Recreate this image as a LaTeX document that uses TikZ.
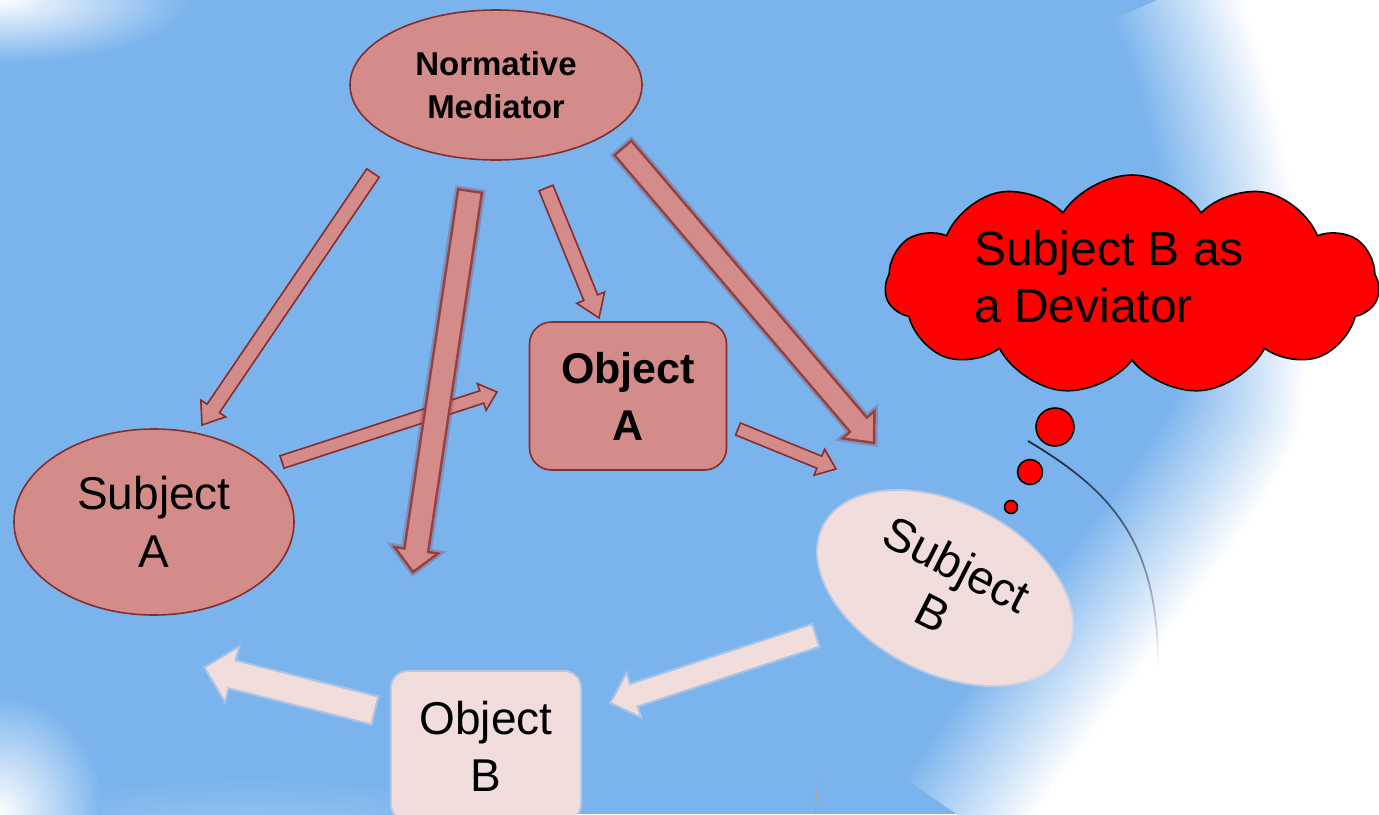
\documentclass[tikz,border=0pt]{standalone}
\usepackage{fontspec}
\setmainfont{Liberation Sans}
\usetikzlibrary{positioning, calc, shapes.geometric, shapes.symbols, fadings}

\definecolor{sky}{RGB}{123,180,237}
\definecolor{rose}{RGB}{212,140,138}
\definecolor{roseline}{RGB}{135,45,45}
\definecolor{blush}{RGB}{242,221,221}
\definecolor{arcline}{RGB}{30,40,60}

\tikzfading[name=arcfade, top color=transparent!0, middle color=transparent!10, bottom color=transparent!100]

% block arrow: tail, tip, half shaft, half head, head length
\newcommand{\fatarrow}[6][]{%
  \coordinate (hb) at ($(#3)!#6!(#2)$);
  \path[#1] ($(#2)!#4!90:(#3)$) -- ($(hb)!#4!-90:(#2)$) -- ($(hb)!#5!-90:(#2)$) -- (#3)
    -- ($(hb)!#5!90:(#2)$) -- ($(hb)!#4!90:(#2)$) -- ($(#2)!#4!-90:(#3)$) -- cycle;
}

\tikzset{
  mediator/.style={ellipse, fill=rose, draw=roseline, line width=0.8pt, minimum width=146pt, minimum height=75pt, inner sep=0pt, align=center, font=\fontsize{16.5}{21.5}\selectfont\bfseries},
  objbox/.style={rectangle, rounded corners=11pt, fill=rose, draw=roseline, line width=0.8pt, minimum width=98.5pt, minimum height=74pt, align=center, font=\fontsize{21.5}{28.5}\selectfont\bfseries},
  subj/.style={ellipse, fill=rose, draw=roseline, line width=0.8pt, minimum width=140pt, minimum height=93pt, inner sep=0pt, align=center, font=\fontsize{23}{29}\selectfont},
  pale subj/.style={ellipse, fill=blush, minimum width=136pt, minimum height=84pt, inner sep=0pt, align=center, font=\fontsize{23.5}{27}\selectfont, preaction={draw=blush, draw opacity=0.5, line width=2pt}},
  pale box/.style={rectangle, rounded corners=8pt, fill=blush, minimum width=94pt, minimum height=74pt, align=center, font=\fontsize{23}{28.5}\selectfont, preaction={draw=blush, draw opacity=0.5, line width=2pt}},
  deviator/.style={cloud, cloud puffs=11, cloud puff arc=115, aspect=2.25, fill=red, draw=black, line width=0.8pt, minimum width=247pt, minimum height=110pt, inner sep=0pt},
  devtext/.style={align=left, font=\fontsize{24}{28.5}\selectfont},
  bubble/.style={circle, fill=red, draw=black, line width=0.8pt, inner sep=0pt},
  thin arrow/.style={fill=rose, draw=roseline, line width=0.8pt},
  fat arrow/.style={fill=rose, draw=roseline!80!rose, line width=1.2pt, preaction={draw=roseline, draw opacity=0.25, line width=3.5pt}},
  pale arrow/.style={fill=blush, draw=blush, line width=0.8pt, preaction={draw=blush, draw opacity=0.4, line width=3pt}}
}

\begin{document}
\begin{tikzpicture}[x=0.5pt, y=-0.5pt]
    \useasboundingbox (0,0) rectangle (1379,814);
    \clip (0,0) rectangle (1379,814);

    % Background
    \fill[sky] (0,0) rectangle (1379,814);
    \foreach \w [evaluate=\w as \p using {100-\w/2.6}] in {252,248,...,4}
        \draw[white!\p!sky, line width=\w*0.5pt] (1230,-30) .. controls (1285,100) and (1320,300) .. (1300,430)
            .. controls (1260,530) and (1160,630) .. (1010,850);
    \fill[white] (1230,-30) .. controls (1285,100) and (1320,300) .. (1300,430)
        .. controls (1260,530) and (1160,630) .. (1010,850) -- (1420,850) -- (1420,-30) -- cycle;
    \foreach \r [evaluate=\r as \p using {100-1.25*\r}] in {80,78,...,2}
        \fill[white!\p!sky] (0,0) ellipse ({\r*1.2pt} and {\r*0.4pt});
    \foreach \r [evaluate=\r as \p using {(60-\r)*0.5}] in {60,58,...,2}
        \fill[white!\p!sky] (250,850) ellipse ({\r*2.5pt} and {\r*0.6pt});
    \foreach \r [evaluate=\r as \p using {100-1.5*\r}] in {64,62,...,2}
        \fill[white!\p!sky] (0,814) ellipse ({\r*0.8pt} and {\r*0.9pt});
    \draw[arcline, line width=0.9pt, path fading=arcfade] (1028,441) .. controls (1110,490) and (1158,540) .. (1158,665);
    \draw[gray!70, line width=0.5pt] (818,776) -- (815,814);

    % States
    \node[mediator] (nm) at (496,85) {Normative\\Mediator};
    \node[objbox] (oa) at (628,396) {Object\\A};
    \node[subj] (sa) at (154,522) {Subject\\A};
    \node[pale subj, rotate=-27] (sb) at (945,588) {Subject\\B};
    \node[pale box] (ob) at (486,746) {Object\\B};

    % Transitions
    \coordinate (nm-sa-t) at (373,173);
    \coordinate (nm-sa-h) at (202,425);
    \coordinate (sa-oa-t) at (282,462);
    \coordinate (sa-oa-h) at (497,392);
    \coordinate (nm-oa-t) at (546,188);
    \coordinate (nm-oa-h) at (599,318);
    \coordinate (oa-sb-t) at (738,429);
    \coordinate (oa-sb-h) at (836,469);
    \coordinate (nm-ob-t) at (470,191);
    \coordinate (nm-ob-h) at (413,572);
    \coordinate (nm-sb-t) at (623,148);
    \coordinate (nm-sb-h) at (874,443);
    \coordinate (sb-ob-t) at (814,636);
    \coordinate (sb-ob-h) at (613,702);
    \coordinate (ob-sa-t) at (373,710);
    \coordinate (ob-sa-h) at (207,668);

    \fatarrow[thin arrow]{nm-sa-t}{nm-sa-h}{3.75pt}{7.5pt}{10pt}
    \fatarrow[thin arrow]{sa-oa-t}{sa-oa-h}{3.25pt}{7pt}{8pt}
    \fatarrow[thin arrow]{nm-oa-t}{nm-oa-h}{3.75pt}{7.5pt}{11pt}
    \fatarrow[thin arrow]{oa-sb-t}{oa-sb-h}{3.25pt}{7pt}{9pt}
    \fatarrow[fat arrow]{nm-ob-t}{nm-ob-h}{6pt}{11pt}{11pt}
    \fatarrow[fat arrow]{nm-sb-t}{nm-sb-h}{5.5pt}{10.5pt}{12pt}
    \fatarrow[pale arrow]{sb-ob-t}{sb-ob-h}{5pt}{9.5pt}{10pt}
    \fatarrow[pale arrow]{ob-sa-t}{ob-sa-h}{6.25pt}{12pt}{12pt}

    % Thought
    \node[deviator] (dev) at (1132,285) {};
    \node[devtext] (devtxt) at (1109,277) {Subject B as\\a Deviator};
    \node[bubble, minimum size=19pt] (t1) at (1055,427) {};
    \node[bubble, minimum size=12.5pt] (t2) at (1030,472) {};
    \node[bubble, minimum size=6.5pt] (t3) at (1011,507) {};
\end{tikzpicture}
\end{document}
